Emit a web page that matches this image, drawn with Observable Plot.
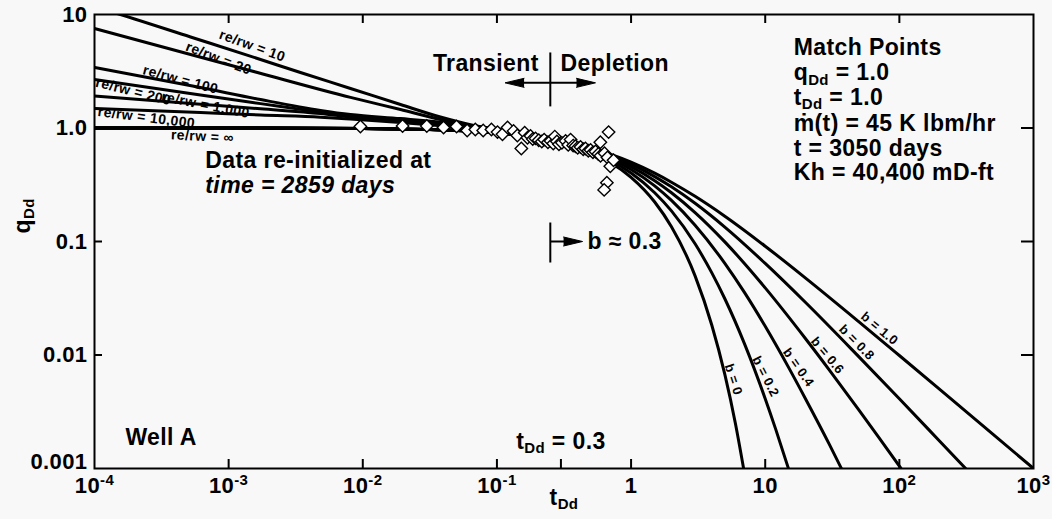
<!DOCTYPE html>
<html><head><meta charset="utf-8">
<script src="https://cdn.jsdelivr.net/npm/d3@7"></script>
<script src="https://cdn.jsdelivr.net/npm/@observablehq/plot@0.6"></script>
<style>
html,body{margin:0;padding:0;background:#f8f8f8;}
#chart svg text{letter-spacing:0.4px;}
</style></head><body><div id="chart"></div>
<script>
// ---- axis ticks ----
const xTicks = [1e-4,1e-3,1e-2,1e-1,1,10,100,1000];
const xTickLabels = ["10^{-4}","10^{-3}","10^{-2}","10^{-1}","1","10","10^{2}","10^{3}"];
const yTicks = [0.01,0.1,1,10];
const yTickLabels = ["0.01","0.1","1.0","10"];
const yBottomTick = [0.001];
const yBottomLabel = ["0.001"];
const xBottomTicks = [1e-3,1e-2,1e-1,0.3,1,10,100];
const xTopTicks = [1e-3,1e-2,1e-1,1,10,100];
const yInnerTicks = [0.01,0.1,1];

// ---- transient stems (re/rw) : [tDd, qDd] ----
const stemNames = ["10","20","100","200","1,000","10,000"];
const stem10 = [[1.2e-4,11.0],[1.56e-4,10],[5.2e-4,6.34],[1.64e-3,4.10],[3.43e-3,3.08],[8.1e-3,2.23],[0.0191,1.61],[0.0379,1.25],[0.0635,1.07],[0.106,0.96],[0.2,0.83]];
const stem20 = [[1e-4,7.53],[5.2e-4,4.44],[1.64e-3,3.08],[8.1e-3,1.86],[0.0191,1.455],[0.0379,1.19],[0.0635,1.05],[0.106,0.95],[0.2,0.83]];
const stem100 = [[1e-4,3.41],[6.17e-4,2.27],[1.73e-3,1.78],[4.84e-3,1.43],[8.1e-3,1.315],[0.0191,1.21],[0.0451,1.10],[0.106,0.96],[0.2,0.83]];
const stem200 = [[1e-4,2.67],[6.17e-4,1.95],[1.73e-3,1.64],[4.84e-3,1.38],[8.1e-3,1.275],[0.0191,1.18],[0.0451,1.073],[0.106,0.955],[0.2,0.83]];
const stem1000 = [[1e-4,1.91],[6.17e-4,1.62],[1.73e-3,1.476],[4.84e-3,1.34],[8.1e-3,1.25],[0.0191,1.15],[0.0451,1.05],[0.106,0.95],[0.2,0.83]];
const stem10000 = [[1e-4,1.485],[6.17e-4,1.37],[1.73e-3,1.30],[4.84e-3,1.245],[8.1e-3,1.20],[0.0191,1.12],[0.0451,1.03],[0.106,0.94],[0.2,0.83]];

// ---- depletion stems (b) : [tDd, qDd] ----
const bNames = ["0","0.2","0.4","0.6","0.8","1.0"];
const depB0 = [[1e-4,1.0],[1e-3,1.0],[0.01,0.99],[0.03,0.97],[0.05,0.951],[0.1,0.905],[0.2,0.819],[0.3,0.741],[0.5,0.607],[0.7,0.497],[1,0.368],[1.5,0.223],[2,0.135],[3,0.0498],[4,0.0183],[5,0.00674],[6,0.00248],[6.9,0.001]];
const depB02 = [[1e-4,1.0],[1e-3,1.0],[0.01,0.99],[0.03,0.97],[0.05,0.951],[0.1,0.906],[0.2,0.822],[0.3,0.747],[0.5,0.621],[0.7,0.519],[1,0.402],[1.5,0.269],[2,0.186],[3,0.0954],[4,0.0529],[5,0.0313],[7,0.0126],[10,0.00412],[12,0.0022],[14.9,0.001]];
const depB04 = [[1e-4,1.0],[1e-3,1.0],[0.01,0.99],[0.03,0.97],[0.05,0.952],[0.1,0.906],[0.2,0.825],[0.3,0.753],[0.5,0.634],[0.7,0.540],[1,0.431],[1.5,0.309],[2,0.230],[3,0.139],[5,0.0642],[7,0.0356],[10,0.0179],[15,0.0077],[20,0.0041],[30,0.00164],[37,0.001]];
const depB06 = [[1e-4,1.0],[1e-3,1.0],[0.01,0.99],[0.03,0.97],[0.05,0.952],[0.1,0.907],[0.2,0.828],[0.3,0.759],[0.5,0.646],[0.7,0.557],[1,0.457],[1.5,0.343],[2,0.269],[3,0.180],[5,0.0992],[7,0.064],[10,0.039],[20,0.0139],[30,0.0074],[50,0.00327],[70,0.00189],[103,0.001]];
const depB08 = [[1e-4,1.0],[1e-3,1.0],[0.01,0.99],[0.03,0.97],[0.05,0.953],[0.1,0.908],[0.2,0.831],[0.3,0.764],[0.5,0.657],[0.7,0.574],[1,0.480],[1.5,0.373],[2,0.303],[3,0.217],[5,0.134],[10,0.0641],[20,0.029],[50,0.00963],[100,0.00412],[200,0.00174],[312,0.001]];
const depB10 = [[1e-4,1.0],[1e-3,1.0],[0.01,0.99],[0.03,0.971],[0.05,0.953],[0.1,0.909],[0.2,0.833],[0.3,0.769],[0.5,0.667],[0.7,0.588],[1,0.5],[1.5,0.4],[2,0.333],[3,0.25],[5,0.167],[10,0.0909],[20,0.0476],[50,0.0196],[100,0.0099],[200,0.00498],[500,0.002],[1000,0.001]];

// ---- Well A data points : [tDd, qDd] ----
const wellA = [[0.0096,1.03],[0.0198,1.04],[0.030,1.04],[0.040,1.01],[0.050,1.03],[0.060,0.95],[0.069,0.97],[0.079,0.95],[0.091,0.97],[0.101,0.92],[0.110,0.88],[0.120,1.01],[0.133,0.94],[0.142,0.86],[0.152,0.66],[0.161,0.91],[0.169,0.82],[0.178,0.85],[0.185,0.80],[0.194,0.81],[0.205,0.78],[0.216,0.76],[0.225,0.79],[0.240,0.75],[0.251,0.77],[0.263,0.73],[0.270,0.84],[0.280,0.76],[0.290,0.72],[0.305,0.74],[0.325,0.77],[0.340,0.71],[0.354,0.79],[0.370,0.70],[0.385,0.69],[0.400,0.67],[0.420,0.68],[0.440,0.65],[0.457,0.66],[0.480,0.63],[0.499,0.64],[0.520,0.61],[0.543,0.62],[0.570,0.59],[0.592,0.57],[0.590,0.75],[0.634,0.60],[0.680,0.92],[0.667,0.55],[0.700,0.46],[0.740,0.52],[0.660,0.33],[0.630,0.285]];

// ---- curve labels ----
const curveLabelText = ["re/rw = 10","re/rw = 20","re/rw = 100","re/rw = 200","re/rw = 1,000","re/rw = 10,000","re/rw = ∞"];
const curveLabelT = [1.5e-3,8.4e-4,4.38e-4,1.95e-4,6.72e-4,2.44e-4,6.38e-4];
const curveLabelQ = [5.3,4.10,2.67,2.10,1.595,1.237,0.842];
const curveLabelAngle = [20,21,15,14,11,7,3];
const bLabelText = ["b = 1.0","b = 0.8","b = 0.6","b = 0.4","b = 0.2","b = 0"];
const bLabelT = [71.1,48.0,29.1,17.7,10.05,5.80];
const bLabelQ = [0.0171,0.0129,0.0099,0.00776,0.00647,0.00608];
const bLabelAngle = [40,45,50,55,63,72];

// ---- annotations ----
const noteText = ["Transient","Depletion","Data re-initialized at","time = 2859 days","b ≈ 0.3","Well A","t_{Dd} = 0.3"];
const noteT = [0.205,0.298,6.7e-4,6.7e-4,0.473,1.70e-4,0.3];
const noteQ = [3.70,3.70,0.517,0.311,0.1,0.00188,0.00173];
const noteAnchor = ["end","start","start","start","start","start","middle"];
const noteStyle = ["normal","normal","normal","italic","normal","normal","normal"];
const matchText = ["Match Points","q_{Dd} = 1.0","t_{Dd} = 1.0","ṁ(t) = 45 K lbm/hr","t = 3050 days","Kh = 40,400 mD-ft"];
const matchT = 16.3;
const matchQ = [5.12,3.08,1.857,1.096,0.66,0.406];

// ---- arrows ----
const shaftT1 = [0.25,0.13,0.25,0.25];
const shaftQ1 = [4.63,2.5,0.147,0.1];
const shaftT2 = [0.25,0.48,0.25,0.40];
const shaftQ2 = [1.55,2.5,0.0653,0.1];
const headT = [0.115,0.543,0.435];
const headQ = [2.5,2.5,0.1];
const headAngle = [-90,90,90];

// ---- build tables ----
const lineRows = [];
[stem10,stem20,stem100,stem200,stem1000,stem10000].forEach((s,i)=>s.forEach(([t,q])=>lineRows.push({id:"re"+stemNames[i],t,q})));
[depB0,depB02,depB04,depB06,depB08,depB10].forEach((s,i)=>s.forEach(([t,q])=>lineRows.push({id:"b"+bNames[i],t,q})));
const pts = wellA.map(([t,q])=>({t,q}));
const curveLabels = curveLabelText.map((text,i)=>({text,t:curveLabelT[i],q:curveLabelQ[i],a:curveLabelAngle[i]}));
const bLabels = bLabelText.map((text,i)=>({text,t:bLabelT[i],q:bLabelQ[i],a:bLabelAngle[i]}));
const notes = noteText.map((text,i)=>({text,t:noteT[i],q:noteQ[i],anchor:noteAnchor[i],style:noteStyle[i]}));
const matches = matchText.map((text,i)=>({text,t:matchT,q:matchQ[i]}));
const shafts = shaftT1.map((t1,i)=>({t1,q1:shaftQ1[i],t2:shaftT2[i],q2:shaftQ2[i]}));
const heads = headT.map((t,i)=>({t,q:headQ[i],a:headAngle[i]}));

const FONT = "'Liberation Sans', Arial, Helvetica, sans-serif";
const BIG = 23;

function buildMarks(useSpike){
  const m = [
    Plot.line(lineRows,{x:"t",y:"q",z:"id",curve:"monotone-x",stroke:"black",strokeWidth:3,clip:true}),
    Plot.dot(pts,{x:"t",y:"q",symbol:"diamond2",r:5.6,fill:"white",stroke:"black",strokeWidth:1.4}),
    Plot.frame({stroke:"black",strokeWidth:2}),
    Plot.ruleX(xBottomTicks,{stroke:"black",strokeWidth:2,insetTop:445}),
    Plot.ruleX(xTopTicks,{stroke:"black",strokeWidth:2,insetBottom:445}),
    Plot.ruleY(yInnerTicks,{stroke:"black",strokeWidth:2,insetLeft:927}),
    Plot.ruleY(yInnerTicks,{stroke:"black",strokeWidth:2,insetRight:931}),
    Plot.axisX(xTicks,{tickSize:0,tickPadding:9,tickFormat:d=>xTickLabels[xTicks.indexOf(d)],fontSize:22,fontWeight:"bold",label:null}),
    Plot.axisY(yTicks,{tickSize:0,tickPadding:7,tickFormat:d=>yTickLabels[yTicks.indexOf(d)],fontSize:22,fontWeight:"bold",label:null}),
    Plot.axisY(yBottomTick,{tickSize:0,tickPadding:7,dy:-7,tickFormat:d=>yBottomLabel[yBottomTick.indexOf(d)],fontSize:22,fontWeight:"bold",label:null}),
    Plot.text(["t_{Dd}"],{frameAnchor:"bottom",dy:36,fontSize:BIG,fontWeight:"bold"}),
    Plot.text(["q_{Dd}"],{frameAnchor:"left",dx:-72,dy:-8,rotate:-90,fontSize:BIG,fontWeight:"bold"}),
    Plot.text(curveLabels,{x:"t",y:"q",text:"text",rotate:"a",fontSize:14,fontWeight:"bold",fill:"black"}),
    Plot.text(bLabels,{x:"t",y:"q",text:"text",rotate:"a",fontSize:13,fontWeight:"bold",fill:"black"}),
    Plot.text(notes.filter(d=>d.anchor==="end"),{x:"t",y:"q",text:"text",textAnchor:"end",fontSize:BIG,fontWeight:"bold"}),
    Plot.text(notes.filter(d=>d.anchor==="middle"),{x:"t",y:"q",text:"text",textAnchor:"middle",fontSize:BIG,fontWeight:"bold"}),
    Plot.text(notes.filter(d=>d.anchor==="start"&&d.style==="normal"),{x:"t",y:"q",text:"text",textAnchor:"start",fontSize:BIG,fontWeight:"bold"}),
    Plot.text(notes.filter(d=>d.style==="italic"),{x:"t",y:"q",text:"text",textAnchor:"start",fontSize:BIG,fontWeight:"bold",fontStyle:"italic"}),
    Plot.text(matches,{x:"t",y:"q",text:"text",textAnchor:"start",fontSize:BIG,fontWeight:"bold"}),
    Plot.link(shafts,{x1:"t1",y1:"q1",x2:"t2",y2:"q2",stroke:"black",strokeWidth:2})
  ];
  if (useSpike) {
    m.push(Plot.vector(heads,{x:"t",y:"q",rotate:"a",length:19,anchor:"end",shape:"spike",r:4.5,fill:"black",stroke:"black",strokeWidth:1}));
  } else {
    m.push(Plot.arrow(heads.map(h=>({t1:h.a<0?h.t*1.25:h.t*0.8,t2:h.t,q:h.q})),{x1:"t1",x2:"t2",y1:"q",y2:"q",stroke:"black",strokeWidth:2.5,headLength:14}));
  }
  return m;
}

function makePlot(useSpike){
  return Plot.plot({
    width:1052,height:519,
    marginLeft:94,marginRight:19,marginTop:14,marginBottom:51,
    style:{background:"transparent",fontFamily:FONT,fontSize:"22px",fontWeight:"bold",color:"black",overflow:"visible"},
    x:{type:"log",domain:[1e-4,1e3]},
    y:{type:"log",domain:[1e-3,10]},
    marks:buildMarks(useSpike)
  });
}

let chart;
try { chart = makePlot(true); } catch(e) { chart = makePlot(false); }
document.getElementById("chart").appendChild(chart);

// rich text: ^{...} superscript, _{...} subscript
const NS = "http://www.w3.org/2000/svg";
for (const el of chart.querySelectorAll("text")) {
  const s = el.textContent;
  if (!/[\^_]\{/.test(s) || el.querySelector("tspan")) continue;
  const fs = parseFloat(getComputedStyle(el).fontSize) || 22;
  const small = Math.round(fs*0.66);
  el.textContent = "";
  const add = (txt,size,dy)=>{
    const ts = document.createElementNS(NS,"tspan");
    ts.textContent = txt;
    if (size) ts.setAttribute("font-size",size);
    if (dy) ts.setAttribute("dy",dy);
    el.appendChild(ts);
  };
  const re = /([\^_])\{([^}]*)\}/g;
  let last = 0, m, shift = 0;
  while ((m = re.exec(s))) {
    if (m.index > last) { add(s.slice(last,m.index),null,shift ? -shift : null); shift = 0; }
    const d = m[1] === "^" ? -fs*0.38 : fs*0.2;
    add(m[2],small,d - shift); shift = d;
    last = re.lastIndex;
  }
  if (last < s.length) add(s.slice(last),null,shift ? -shift : null);
}
</script></body></html>
